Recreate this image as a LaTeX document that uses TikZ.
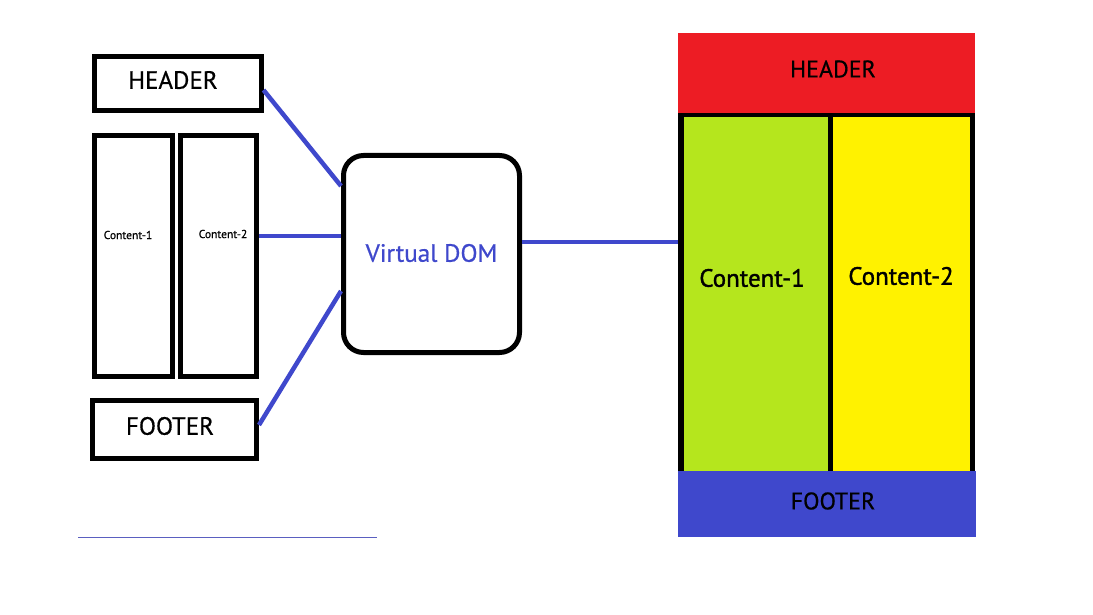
\documentclass[tikz,border=0pt]{standalone}
\usepackage{fontspec}
\setmainfont{PT Sans}[FakeBold=0.6]
\newfontfamily\heavyfont{PT Sans}[FakeBold=1.4]
\definecolor{linkblue}{HTML}{3F48CC}
\definecolor{hdrred}{HTML}{ED1C24}
\definecolor{cgreen}{HTML}{B5E61D}
\definecolor{cyellow}{HTML}{FFF200}
\definecolor{ulblue}{HTML}{5A5FC0}
\tikzset{
  box/.style={draw=black, line width=5pt, fill=white, inner sep=0pt},
  link/.style={draw=linkblue, line width=4.5pt},
  lbl/.style={inner sep=0pt, text=black},
  fillbox/.style={inner sep=0pt, draw=none},
}
\begin{document}
\begin{tikzpicture}[x=1pt,y=-1pt]
\useasboundingbox (0,0) rectangle (1093,615);
% left side
\node[box, minimum width=166.5pt, minimum height=54pt] (hdr) at (177.75,84) {};
\node[lbl, font=\fontsize{25}{28}\selectfont] (hdrt) at (173,80) {HEADER};
\node[box, minimum width=78pt, minimum height=241pt] (c1) at (133.5,256) {};
\node[lbl, font=\fontsize{11.5}{13}\selectfont] (c1t) at (128,235) {Content-1};
\node[box, minimum width=76pt, minimum height=241pt] (c2) at (218.5,256) {};
\node[lbl, font=\fontsize{11.5}{13}\selectfont] (c2t) at (223,234) {Content-2};
\node[box, minimum width=164pt, minimum height=58pt] (ft) at (174.5,429.5) {};
\node[lbl, font=\fontsize{25}{28}\selectfont] (ftt) at (170,426) {FOOTER};
% virtual DOM
\node[box, rounded corners=20pt, minimum width=176pt, minimum height=197pt] (vd) at (431.5,254) {};
\node[lbl, text=linkblue, font=\fontsize{25}{28}\selectfont] (vdt) at (431.5,253) {Virtual DOM};
% right layout
\node[fillbox, fill=hdrred, minimum width=297pt, minimum height=80pt] (rh) at (826.5,73) {};
\node[lbl, font=\fontsize{24}{27}\selectfont] (rht) at (833,69) {HEADER};
\node[fillbox, fill=black, minimum width=297pt, minimum height=359pt] (rc) at (826.5,292.5) {};
\node[fillbox, fill=cgreen, minimum width=144pt, minimum height=355pt] (rg) at (756,294.5) {};
\node[fillbox, fill=cyellow, minimum width=137pt, minimum height=355pt] (ry) at (901.5,294.5) {};
\node[lbl, font=\heavyfont\fontsize{25}{28}\selectfont] (rgt) at (752,278) {Content-1};
\node[lbl, font=\heavyfont\fontsize{25}{28}\selectfont] (ryt) at (901,276) {Content-2};
\node[fillbox, fill=linkblue, minimum width=298pt, minimum height=66pt] (rf) at (827,504) {};
\node[lbl, font=\fontsize{24}{27}\selectfont] (rft) at (833,501) {FOOTER};
% connectors
\draw[link] ([yshift=-6pt]hdr.east) -- ([yshift=68pt]vd.west);
\draw[link] ([yshift=20pt]c2.east) -- ([yshift=18pt]vd.west);
\draw[link] ([yshift=4.5pt]ft.east) -- ([yshift=-37pt]vd.west);
\draw[link] ([yshift=12pt]vd.east) -- ([yshift=50.5pt]rc.west);
% underline
\coordinate (ul1) at (78,537);
\coordinate (ul2) at (377,537);
\draw[draw=ulblue, line width=1pt] (ul1) -- (ul2);
\end{tikzpicture}
\end{document}
